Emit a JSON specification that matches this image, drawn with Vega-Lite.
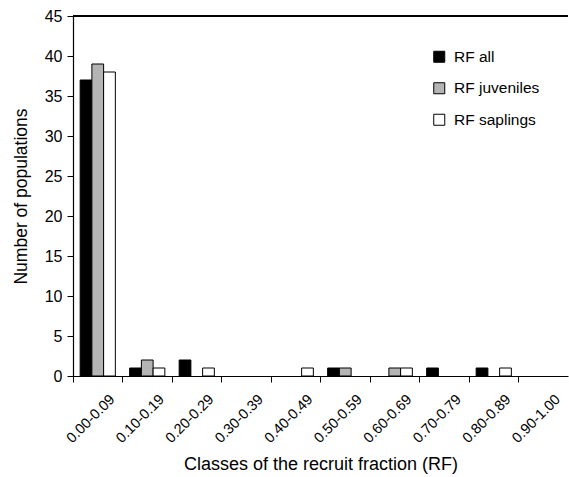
{
  "$schema": "https://vega.github.io/schema/vega-lite/v6.json",
  "width": 495,
  "height": 360,
  "autosize": {"type": "none"},
  "padding": {"left": 73, "top": 16, "right": 1, "bottom": 101},
  "background": "white",
  "config": {
    "view": {"stroke": null},
    "font": "Liberation Sans",
    "axis": {"labelFont": "Liberation Sans", "titleFont": "Liberation Sans", "domainColor": "#000000", "tickColor": "#000000", "labelColor": "#000000", "titleColor": "#000000", "titleFontWeight": "normal"},
    "legend": {"labelFont": "Liberation Sans"}
  },
  "data": {
    "values": [
      {"cls": "0.00-0.09", "series": "RF all", "n": 37},
      {"cls": "0.00-0.09", "series": "RF juveniles", "n": 39},
      {"cls": "0.00-0.09", "series": "RF saplings", "n": 38},
      {"cls": "0.10-0.19", "series": "RF all", "n": 1},
      {"cls": "0.10-0.19", "series": "RF juveniles", "n": 2},
      {"cls": "0.10-0.19", "series": "RF saplings", "n": 1},
      {"cls": "0.20-0.29", "series": "RF all", "n": 2},
      {"cls": "0.20-0.29", "series": "RF juveniles", "n": 0},
      {"cls": "0.20-0.29", "series": "RF saplings", "n": 1},
      {"cls": "0.30-0.39", "series": "RF all", "n": 0},
      {"cls": "0.30-0.39", "series": "RF juveniles", "n": 0},
      {"cls": "0.30-0.39", "series": "RF saplings", "n": 0},
      {"cls": "0.40-0.49", "series": "RF all", "n": 0},
      {"cls": "0.40-0.49", "series": "RF juveniles", "n": 0},
      {"cls": "0.40-0.49", "series": "RF saplings", "n": 1},
      {"cls": "0.50-0.59", "series": "RF all", "n": 1},
      {"cls": "0.50-0.59", "series": "RF juveniles", "n": 1},
      {"cls": "0.50-0.59", "series": "RF saplings", "n": 0},
      {"cls": "0.60-0.69", "series": "RF all", "n": 0},
      {"cls": "0.60-0.69", "series": "RF juveniles", "n": 1},
      {"cls": "0.60-0.69", "series": "RF saplings", "n": 1},
      {"cls": "0.70-0.79", "series": "RF all", "n": 1},
      {"cls": "0.70-0.79", "series": "RF juveniles", "n": 0},
      {"cls": "0.70-0.79", "series": "RF saplings", "n": 0},
      {"cls": "0.80-0.89", "series": "RF all", "n": 1},
      {"cls": "0.80-0.89", "series": "RF juveniles", "n": 0},
      {"cls": "0.80-0.89", "series": "RF saplings", "n": 1},
      {"cls": "0.90-1.00", "series": "RF all", "n": 0},
      {"cls": "0.90-1.00", "series": "RF juveniles", "n": 0},
      {"cls": "0.90-1.00", "series": "RF saplings", "n": 0}
    ]
  },
  "resolve": {"axis": {"y": "independent"}},
  "layer": [
    {
      "transform": [{"filter": "datum.n > 0"}],
      "mark": {"type": "bar", "stroke": "#000000", "strokeWidth": 1},
      "encoding": {
        "x": {
          "field": "cls", "type": "nominal", "sort": null,
          "scale": {"paddingInner": 0, "paddingOuter": 0, "domain": ["0.00-0.09","0.10-0.19","0.20-0.29","0.30-0.39","0.40-0.49","0.50-0.59","0.60-0.69","0.70-0.79","0.80-0.89","0.90-1.00"]},
          "axis": {
            "title": "Classes of the recruit fraction (RF)",
            "titleFontSize": 18, "titlePadding": 11,
            "labelAngle": -45, "labelFontSize": 14.5, "labelAlign": "right", "labelBaseline": "middle",
            "bandPosition": 0, "labelOffset": 15, "tickSize": 6, "labelPadding": 15, "domainWidth": 1.2
          }
        },
        "xOffset": {"field": "series", "type": "nominal", "scale": {"paddingOuter": 0.61, "paddingInner": 0}},
        "y": {
          "field": "n", "type": "quantitative",
          "scale": {"domain": [0, 45], "nice": false},
          "axis": {"title": "Number of populations", "titleFontSize": 17.5, "titlePadding": 14, "values": [0,5,10,15,20,25,30,35,40,45], "labelOverlap": false, "grid": false, "tickSize": 6, "labelFontSize": 16, "labelPadding": 5, "domainWidth": 1.2}
        },
        "fill": {
          "field": "series", "type": "nominal",
          "scale": {"domain": ["RF all", "RF juveniles", "RF saplings"], "range": ["#000000", "#b4b4b4", "#ffffff"]},
          "legend": {"title": null, "orient": "none", "legendX": 358.5, "legendY": 33, "symbolType": "square", "symbolSize": 121, "symbolStrokeColor": "#000000", "symbolStrokeWidth": 1, "labelFontSize": 15.5, "rowPadding": 14.5, "labelOffset": 7, "labelColor": "#000000"}
        }
      }
    },
    {
      "mark": {"type": "rule", "color": "#000000", "strokeWidth": 1.5},
      "encoding": {"y": {"datum": 45, "type": "quantitative", "axis": null}}
    }
  ]
}
